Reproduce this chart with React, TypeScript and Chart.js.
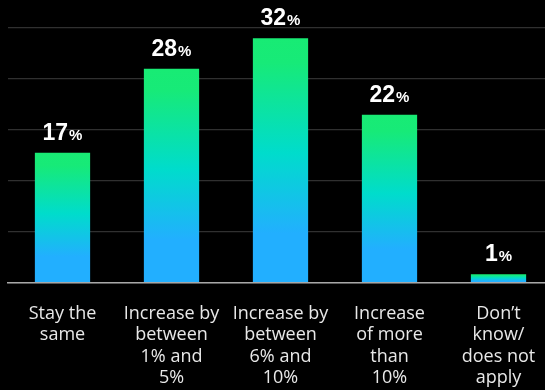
import React, { useEffect, useRef } from "react";
import { Chart, registerables } from "chart.js";

Chart.register(...registerables);

const categories: string[][] = [
  ["Stay the", "same"],
  ["Increase by", "between", "1% and", "5%"],
  ["Increase by", "between", "6% and", "10%"],
  ["Increase", "of more", "than", "10%"],
  ["Don\u2019t", "know/", "does not", "apply"],
];
const values: number[] = [17, 28, 32, 22, 1.1];
const valueLabels: string[] = ["17", "28", "32", "22", "1"];
const yMax = 33.35;
const yStep = 6.67;

const labelPlugin = {
  id: "valueLabels",
  afterDatasetsDraw(chart: any) {
    const ctx = chart.ctx;
    const meta = chart.getDatasetMeta(0);
    ctx.save();
    ctx.fillStyle = "#ffffff";
    ctx.textBaseline = "alphabetic";
    const bigFont = "bold 23px 'Liberation Sans', Arial, sans-serif";
    const smallFont = "bold 15px 'Liberation Sans', Arial, sans-serif";
    meta.data.forEach((el: any, i: number) => {
      const num = valueLabels[i];
      ctx.font = bigFont;
      const w1 = ctx.measureText(num).width;
      ctx.font = smallFont;
      const w2 = ctx.measureText("%").width;
      const gap = 1;
      const total = w1 + gap + w2;
      const x0 = el.x - total / 2;
      const y = el.y - 13;
      ctx.textAlign = "left";
      ctx.font = bigFont;
      ctx.fillText(num, x0, y);
      ctx.font = smallFont;
      ctx.fillText("%", x0 + w1 + gap, y);
    });
    ctx.restore();
  },
};

export default function App() {
  const ref = useRef<HTMLCanvasElement | null>(null);
  useEffect(() => {
    document.body.style.margin = "0";
    document.body.style.overflow = "hidden";
    document.body.style.background = "#000";
    const canvas = ref.current!;
    const chart = new Chart(canvas, {
      type: "bar",
      data: {
        labels: categories,
        datasets: [
          {
            data: values,
            backgroundColor: (c: any) => {
              const ch = c.chart;
              const ys = ch.scales && ch.scales.y;
              if (!ys || c.raw == null) return "#18e0b0";
              const top = ys.getPixelForValue(c.raw);
              const bottom = ys.getPixelForValue(0);
              if (!isFinite(top) || !isFinite(bottom) || top === bottom) return "#18e0b0";
              const g = ch.ctx.createLinearGradient(0, top, 0, bottom);
              g.addColorStop(0, "#18eb74");
              g.addColorStop(0.1, "#17ea78");
              g.addColorStop(0.47, "#00dccc");
              g.addColorStop(0.8, "#22afff");
              g.addColorStop(1, "#22afff");
              return g;
            },
            borderWidth: 0,
            categoryPercentage: 1,
            barPercentage: 0.507,
          },
        ],
      },
      options: {
        responsive: false,
        animation: false,
        devicePixelRatio: 1,
        layout: { padding: { left: 8, right: 0, top: 28, bottom: 0 } },
        plugins: {
          legend: { display: false },
          tooltip: { enabled: false },
        },
        scales: {
          x: {
            grid: { display: false },
            border: { display: true, color: "#a8a8a8", width: 1.5 },
            ticks: {
              color: "#e8e8e8",
              font: { family: "'Open Sans', sans-serif", size: 18, lineHeight: 1.2 },
              padding: 12,
              maxRotation: 0,
              autoSkip: false,
            },
          },
          y: {
            min: 0,
            max: yMax,
            ticks: { display: false, stepSize: yStep },
            grid: { color: "#303030", lineWidth: 1.2, drawTicks: false },
            border: { display: false },
          },
        },
      },
      plugins: [labelPlugin],
    });
    return () => chart.destroy();
  }, []);
  return (
    <div style={{ position: "absolute", left: 0, top: 0, width: 545, height: 390, overflow: "hidden", background: "#000" }}>
      <canvas ref={ref} width={553} height={401} style={{ width: 553, height: 401, display: "block" }} />
    </div>
  );
}
